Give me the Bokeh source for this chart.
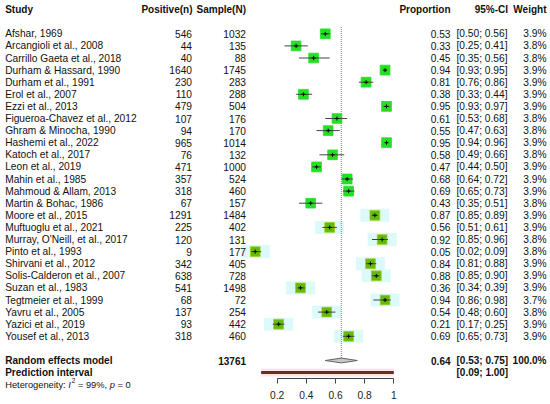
from math import sqrt
from bokeh.plotting import figure
from bokeh.models import Range1d, FixedTicker, ColumnDataSource, CustomJSTickFormatter
from bokeh.core.properties import value
from bokeh.embed import file_html
from bokeh.resources import INLINE

# ---------------- data ----------------
studies = [
    "Afshar, 1969", "Arcangioli et al., 2008", "Carrillo Gaeta et al., 2018",
    "Durham & Hassard, 1990", "Durham et al., 1991", "Erol et al., 2007",
    "Ezzi et al., 2013", "Figueroa-Chavez et al., 2012", "Ghram & Minocha, 1990",
    "Hashemi et al., 2022", "Katoch et al., 2017", "Leon et al., 2019",
    "Mahin et al., 1985", "Mahmoud & Allam, 2013", "Martin & Bohac, 1986",
    "Moore et al., 2015", "Muftuoglu et al., 2021", "Murray, O'Neill, et al., 2017",
    "Pinto et al., 1993", "Shirvani et al., 2012", "Solis-Calderon et al., 2007",
    "Suzan et al., 1983", "Tegtmeier et al., 1999", "Yavru et al., 2005",
    "Yazici et al., 2019", "Yousef et al., 2013",
]
positives = [546, 44, 40, 1640, 230, 110, 479, 107, 94, 965, 76, 471, 357, 318, 67,
             1291, 225, 120, 9, 342, 638, 541, 68, 137, 93, 318]
samples = [1032, 135, 88, 1745, 283, 288, 504, 176, 170, 1014, 132, 1000, 524, 460, 157,
           1484, 402, 131, 177, 405, 728, 1498, 72, 254, 442, 460]
proportions = [0.53, 0.33, 0.45, 0.94, 0.81, 0.38, 0.95, 0.61, 0.55, 0.95, 0.58, 0.47, 0.68,
               0.69, 0.43, 0.87, 0.56, 0.92, 0.05, 0.84, 0.88, 0.36, 0.94, 0.54, 0.21, 0.69]
ci_lower = [0.50, 0.25, 0.35, 0.93, 0.76, 0.33, 0.93, 0.53, 0.47, 0.94, 0.49, 0.44, 0.64,
            0.65, 0.35, 0.85, 0.51, 0.85, 0.02, 0.81, 0.85, 0.34, 0.86, 0.48, 0.17, 0.65]
ci_upper = [0.56, 0.41, 0.56, 0.95, 0.86, 0.44, 0.97, 0.68, 0.63, 0.96, 0.66, 0.50, 0.72,
            0.73, 0.51, 0.89, 0.61, 0.96, 0.09, 0.88, 0.90, 0.39, 0.98, 0.60, 0.25, 0.73]
weights = [3.9, 3.8, 3.8, 3.9, 3.9, 3.9, 3.9, 3.8, 3.8, 3.9, 3.8, 3.9, 3.9, 3.9, 3.8,
           3.9, 3.9, 3.8, 3.8, 3.9, 3.9, 3.9, 3.7, 3.8, 3.9, 3.9]

pooled_total = 13761
pooled_est = 0.64
pooled_lower = 0.53
pooled_upper = 0.75
pooled_weight = 100.0
pred_lower = 0.09
pred_upper = 1.00
i2_percent = 99
p_text = "0"

tick_values = [0.2, 0.4, 0.6, 0.8, 1.0]
tick_labels = ["0.2", "0.4", "0.6", "0.8", "1"]

# ---------------- layout ----------------
FONT = "Liberation Sans"
W, H = 550, 404
PX0, PPU = 247.5, 145.8      # px of proportion 0, px per unit
ROW0, ROWH = 33.3, 12.1      # px of first row, row pitch


def px_x(px):
    return (px - PX0) / PPU


def px_y(px):
    return (px - ROW0) / ROWH


x_range = Range1d(px_x(0), px_x(W))
y_range = Range1d(px_y(H), px_y(0))

p = figure(width=W, height=H, x_range=x_range, y_range=y_range,
           toolbar_location=None, output_backend="svg", y_axis_location=None,
           min_border_left=0, min_border_right=0, min_border_top=0,
           min_border_bottom=0, outline_line_color=None)
p.xgrid.visible = False
p.ygrid.visible = False

n = len(studies)
rows = list(range(n))
HIGHLIGHT_FROM = studies.index("Moore et al., 2015")
hl = [i >= HIGHLIGHT_FROM for i in rows]

src = ColumnDataSource(dict(
    y=rows,
    study=studies,
    pos=[str(v) for v in positives],
    samp=[str(v) for v in samples],
    prop=proportions,
    lo=ci_lower,
    hi=ci_upper,
    prop_s=[f"{v:.2f}" for v in proportions],
    ci_s=[f"[{a:.2f}; {b:.2f}]" for a, b in zip(ci_lower, ci_upper)],
    w_s=[f"{w:.1f}%" for w in weights],
    size=[9.8 * sqrt(w / 3.9) for w in weights],
    fill=["#62bb0a" if h else "#22e022" for h in hl],
    edge=["#a8c820" if h else "#22e022" for h in hl],
))
hl_src = ColumnDataSource(dict(
    y=[r for r in rows if hl[r]],
    prop=[proportions[r] for r in rows if hl[r]],
))

FS = "10.2px"
FSB = "10px"
TXT = "#111111"

# highlight halos (behind everything)
p.rect(x="prop", y="y", width=29, height=13, width_units="screen", height_units="screen",
       source=hl_src, fill_color="#dcfafa", line_color=None)


def col_text(x, field, align):
    p.text(x=x, y="y", text=field, source=src, text_font=value(FONT),
           text_font_size=FS, text_baseline="middle", text_align=align,
           text_color=TXT)


# headers
hy = px_y(9)
headers = [("Study", 4.7, "left"), ("Positive(n)", 192, "right"),
           ("Sample(N)", 245.5, "right"), ("Proportion", 450, "right"),
           ("95%-CI", 507.5, "right"), ("Weight", 546, "right")]
for txt, xr, al in headers:
    p.text(x=[px_x(xr)], y=[hy], text=[txt], text_font=value(FONT), text_font_size=FSB,
           text_baseline="middle", text_align=al, text_color=TXT, text_font_style="bold")

col_text(px_x(4.7), "study", "left")
col_text(px_x(191.5), "pos", "right")
col_text(px_x(245.5), "samp", "right")
col_text(px_x(450), "prop_s", "right")
col_text(px_x(456), "ci_s", "left")
col_text(px_x(546), "w_s", "right")

# pooled rows
ry = px_y(360)
py_ = px_y(372)
pooled_txt = [
    ("Random effects model", 4.7, ry, "left"),
    (str(pooled_total), 245.5, ry, "right"),
    (f"{pooled_est:.2f}", 450, ry, "right"),
    (f"[{pooled_lower:.2f}; {pooled_upper:.2f}]", 456, ry, "left"),
    (f"{pooled_weight:.1f}%", 546, ry, "right"),
    ("Prediction interval", 4.7, py_, "left"),
    (f"[{pred_lower:.2f}; {pred_upper:.2f}]", 456, py_, "left"),
]
for txt, xr, yy, al in pooled_txt:
    p.text(x=[px_x(xr)], y=[yy], text=[txt], text_font=value(FONT), text_font_size=FSB,
           text_baseline="middle", text_align=al, text_color=TXT, text_font_style="bold")

# vertical dotted line at pooled estimate
p.segment(x0=[pooled_est], y0=[px_y(26.5)], x1=[pooled_est], y1=[ry],
          line_color="#808080", line_width=1, line_dash="1 1")

# squares, CI, centre marks
p.scatter(x="prop", y="y", size="size", marker="square", source=src,
          fill_color="fill", line_color="edge", line_width=0.8)
p.segment(x0="lo", y0="y", x1="hi", y1="y", source=src, line_color="#444444", line_width=1)
p.scatter(x="prop", y="y", size=4, marker="cross", source=src,
          line_color="#000000", line_width=1)

# diamond
dh = 0.2
p.patch(x=[pooled_lower, pooled_est, pooled_upper, pooled_est],
        y=[ry, ry - dh, ry, ry + dh], fill_color="#c8c8c8", line_color="#666666", line_width=1)

# prediction interval bar
p.segment(x0=[pred_lower], y0=[py_], x1=[pred_upper], y1=[py_],
          line_color="#fde4ec", line_width=8)
p.segment(x0=[pred_lower], y0=[py_], x1=[pred_upper], y1=[py_],
          line_color="#6e2a1c", line_width=3)

# axis, drawn at a fixed location inside the frame
ax = p.xaxis[0]
ax.fixed_location = px_y(378.3)
ax.bounds = (tick_values[0], tick_values[-1])
ax.ticker = FixedTicker(ticks=tick_values)
ax.formatter = CustomJSTickFormatter(
    args=dict(vals=tick_values, labs=tick_labels),
    code="const i = vals.findIndex(v => Math.abs(v - tick) < 1e-9); return i >= 0 ? labs[i] : String(tick);")
ax.minor_tick_line_color = None
ax.major_tick_in = 0
ax.major_tick_out = 5
ax.major_label_standoff = 7
ax.axis_line_color = "#444444"
ax.major_tick_line_color = "#444444"
ax.major_label_text_font = FONT
ax.major_label_text_font_size = FS
ax.major_label_text_color = "#222222"

# heterogeneity line
hy2 = px_y(384)
HF = "9.3px"
het_pieces = [
    ("Heterogeneity: ", 4.7, hy2, "normal", HF),
    ("I", 67.8, hy2, "italic", HF),
    ("2", 71.2, px_y(380.3), "normal", "6.5px"),
    (f"= {i2_percent}%,", 77.4, hy2, "normal", HF),
    ("p", 109.2, hy2, "italic", HF),
    (f"= {p_text}", 117.0, hy2, "normal", HF),
]
for txt, xr, yy, st, fs in het_pieces:
    p.text(x=[px_x(xr)], y=[yy], text=[txt], text_font=value(FONT), text_font_size=fs,
           text_font_style=st, text_baseline="middle", text_align="left", text_color=TXT)

open("out.html", "w").write(file_html(p, INLINE))
